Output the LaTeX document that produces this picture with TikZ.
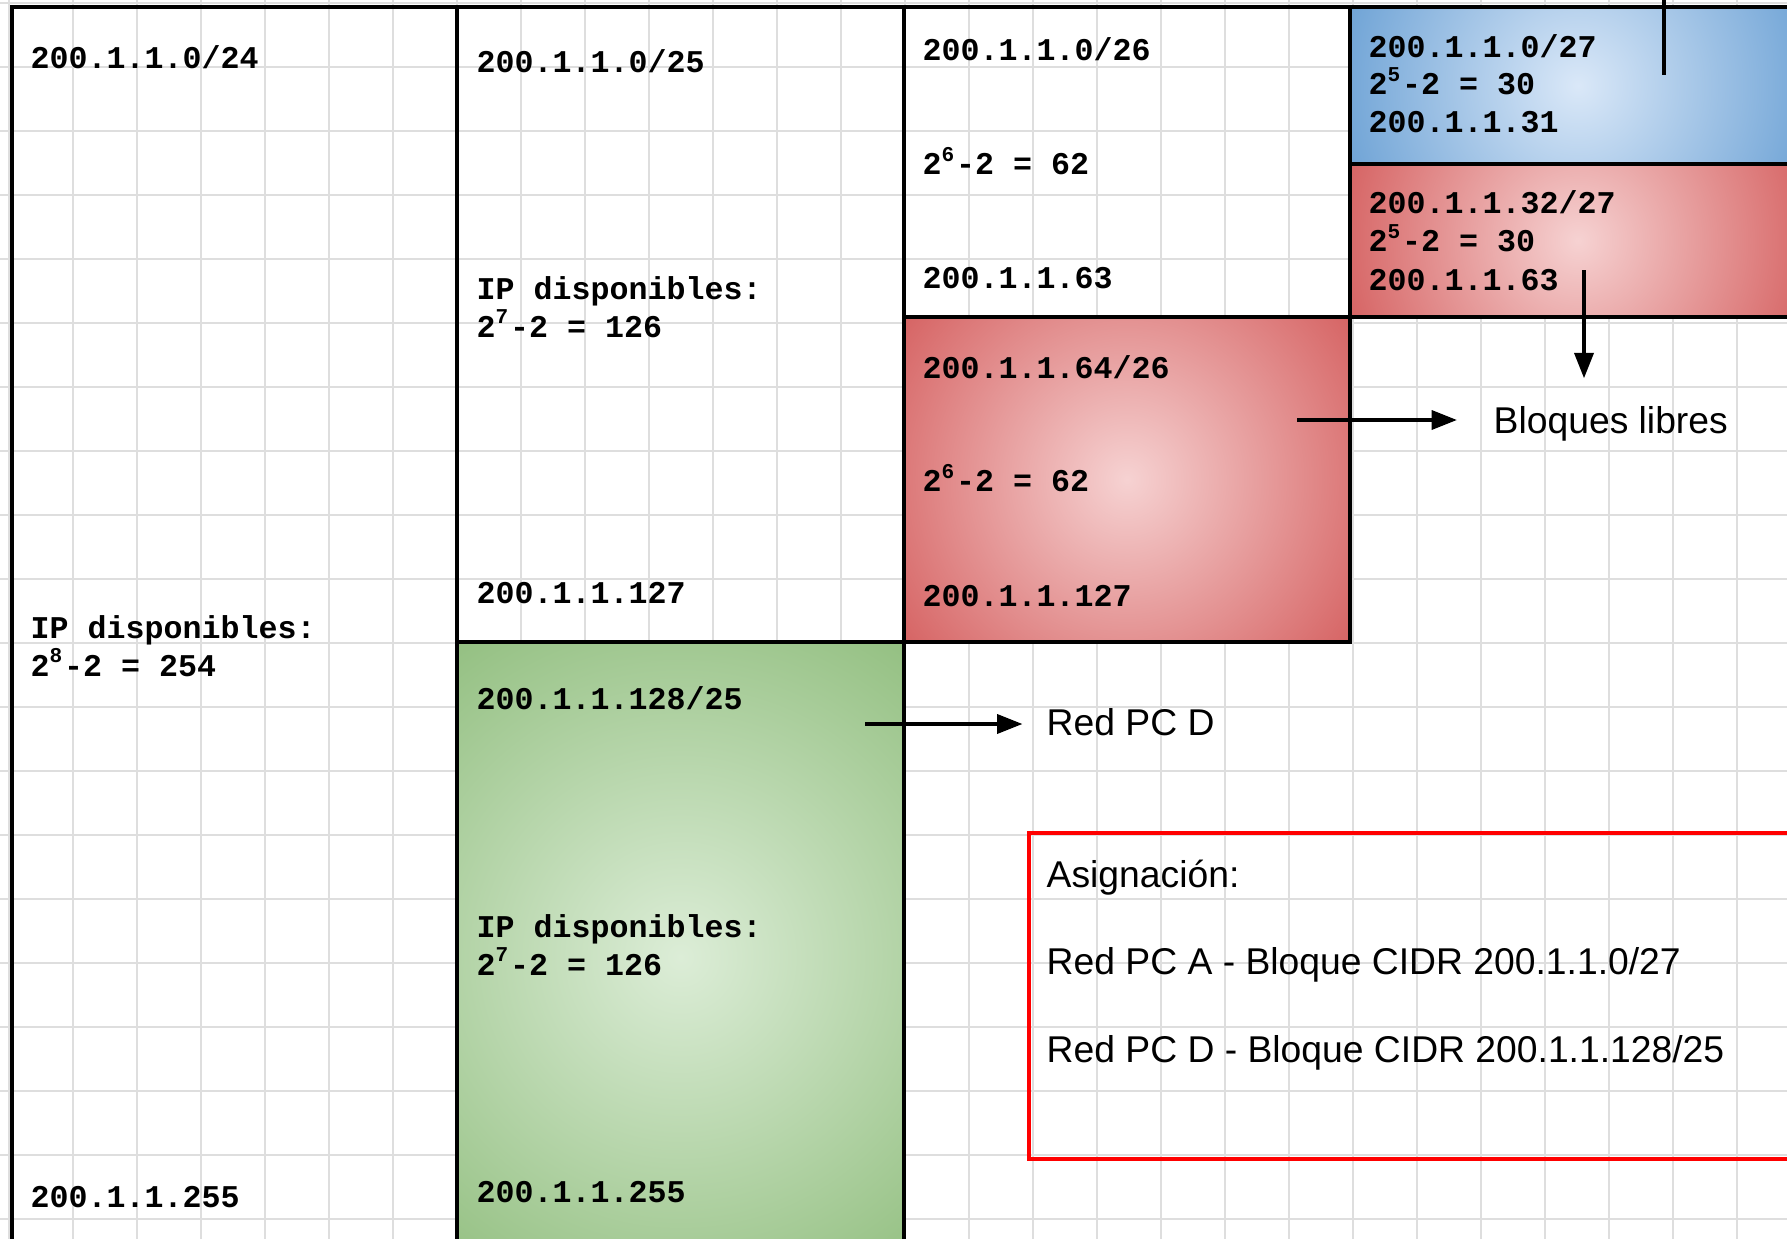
\documentclass[tikz,border=0pt]{standalone}
\usepackage{fontspec}
\setmainfont{Liberation Sans}
\setsansfont{Liberation Sans}
\setmonofont{Liberation Mono}
\usetikzlibrary{arrows.meta}

\definecolor{gridgray}{RGB}{222,222,222}
\definecolor{bluein}{RGB}{218,232,248}
\definecolor{blueout}{RGB}{112,164,214}
\definecolor{redin}{RGB}{246,210,210}
\definecolor{redout}{RGB}{214,100,100}
\definecolor{greenin}{RGB}{220,237,215}
\definecolor{greenout}{RGB}{148,192,130}
\definecolor{alertred}{RGB}{255,0,0}

% a block filled with a round gradient that reaches the outer colour at the corners
% #1 style, #2 corner, #3 opposite corner, #4 centre, #5 radius
\newcommand{\gradblock}[5]{%
  \begin{scope}
    \clip #2 rectangle #3;
    \shade[#1] #4 circle (#5);
  \end{scope}}

\begin{document}
\begin{tikzpicture}[x=0.01cm, y=-0.01cm,
  gridline/.style={draw=gridgray, line width=0.57pt},
  frame/.style={draw=black, line width=1pt},
  addr/.style={anchor=base west, inner sep=0pt,
    font=\fontsize{9}{10.8}\selectfont\ttfamily\bfseries},
  note/.style={anchor=base west, inner sep=0pt,
    font=\fontsize{10.6}{12.7}\selectfont\sffamily},
  arr/.style={line width=1pt, -{Triangle[length=7.2pt, width=5.4pt]}},
  blueblock/.style={inner color=bluein, outer color=blueout},
  redblock/.style={inner color=redin, outer color=redout},
  greenblock/.style={inner color=greenin, outer color=greenout}]

\useasboundingbox (0,0) rectangle (1787,1239);
\clip (0,0) rectangle (1787,1239);
\fill[white] (0,0) rectangle (1787,1239);

% background grid
\foreach \i in {0,...,27} {
  \draw[gridline] ({8.7+64*\i},0) -- ({8.7+64*\i},1239);
}
\foreach \j in {0,...,19} {
  \draw[gridline] (0,{3.3+64*\j}) -- (1787,{3.3+64*\j});
}

% shaded address blocks
\gradblock{blueblock}{(1350,7)}{(1806,164)}{(1578,85.5)}{241}
\gradblock{redblock}{(1350,164)}{(1806,317)}{(1578,240.5)}{241}
\gradblock{redblock}{(904,317)}{(1350,642)}{(1127,479.5)}{276}
\gradblock{greenblock}{(457,642)}{(904,1272)}{(680.5,957)}{386}

% block outlines
\draw[frame] (12,7)    rectangle (457,1272);
\draw[frame] (457,7)   rectangle (904,642);
\draw[frame] (457,642) rectangle (904,1272);
\draw[frame] (904,7)   rectangle (1350,317);
\draw[frame] (904,317) rectangle (1350,642);
\draw[frame] (1350,7)  rectangle (1806,164);
\draw[frame] (1350,164) rectangle (1806,317);
\draw[frame] (10,7) -- (1787,7);

% /24 column
\node[addr] (n24a) at (30,68.5)  {200.1.1.0/24};
\node[addr] (n24b) at (30,638.5) {IP disponibles:};
\node[addr] (n24c) at (30,676)   {2\textsuperscript{8}-2 = 254};
\node[addr] (n24d) at (30,1207.5) {200.1.1.255};

% /25 column
\node[addr] (n25a) at (476,72.5)  {200.1.1.0/25};
\node[addr] (n25b) at (476,299.5) {IP disponibles:};
\node[addr] (n25c) at (476,337)   {2\textsuperscript{7}-2 = 126};
\node[addr] (n25d) at (476,603.5) {200.1.1.127};
\node[addr] (n25e) at (476,709.5) {200.1.1.128/25};
\node[addr] (n25f) at (476,937.5) {IP disponibles:};
\node[addr] (n25g) at (476,975)   {2\textsuperscript{7}-2 = 126};
\node[addr] (n25h) at (476,1202.5) {200.1.1.255};

% /26 column
\node[addr] (n26a) at (922,60.5)  {200.1.1.0/26};
\node[addr] (n26b) at (922,174.5) {2\textsuperscript{6}-2 = 62};
\node[addr] (n26c) at (922,288.5) {200.1.1.63};
\node[addr] (n26d) at (922,378.5) {200.1.1.64/26};
\node[addr] (n26e) at (922,491.5) {2\textsuperscript{6}-2 = 62};
\node[addr] (n26f) at (922,606.5) {200.1.1.127};

% /27 column
\node[addr] (n27a) at (1368,57)    {200.1.1.0/27};
\node[addr] (n27b) at (1368,94.5)  {2\textsuperscript{5}-2 = 30};
\node[addr] (n27c) at (1368,132.5) {200.1.1.31};
\node[addr] (n27d) at (1368,213.5) {200.1.1.32/27};
\node[addr] (n27e) at (1368,251.5) {2\textsuperscript{5}-2 = 30};
\node[addr] (n27f) at (1368,290)   {200.1.1.63};

% labels
\node[note] (lblB) at (1493,433) {Bloques libres};
\node[note] (lblD) at (1046,735) {Red PC D};

% assignment summary
\draw[draw=alertred, line width=1pt] (1029,833) rectangle (1820,1159);
\node[note] (asg)  at (1046,887)    {Asignación:};
\node[note] (asgA) at (1046,974)    {Red PC A - Bloque CIDR 200.1.1.0/27};
\node[note] (asgD) at (1046,1062.5) {Red PC D - Bloque CIDR 200.1.1.128/25};

% connectors
\coordinate (tailD) at (865,724);
\coordinate (tailB) at (1297,420);
\coordinate (tailV) at (1584,270);
\coordinate (stubTop) at (1664,-5);
\coordinate (stubEnd) at (1664,75);

\draw[arr, shorten >=0.235cm] (tailD) -- (tailD -| lblD.west);
\draw[arr, shorten >=0.36cm]  (tailB) -- (tailB -| lblB.west);
\draw[arr, shorten >=0.27cm]  (tailV) -- (tailV |- lblB.north);
\draw[line width=1pt] (stubTop) -- (stubEnd);

\end{tikzpicture}
\end{document}
